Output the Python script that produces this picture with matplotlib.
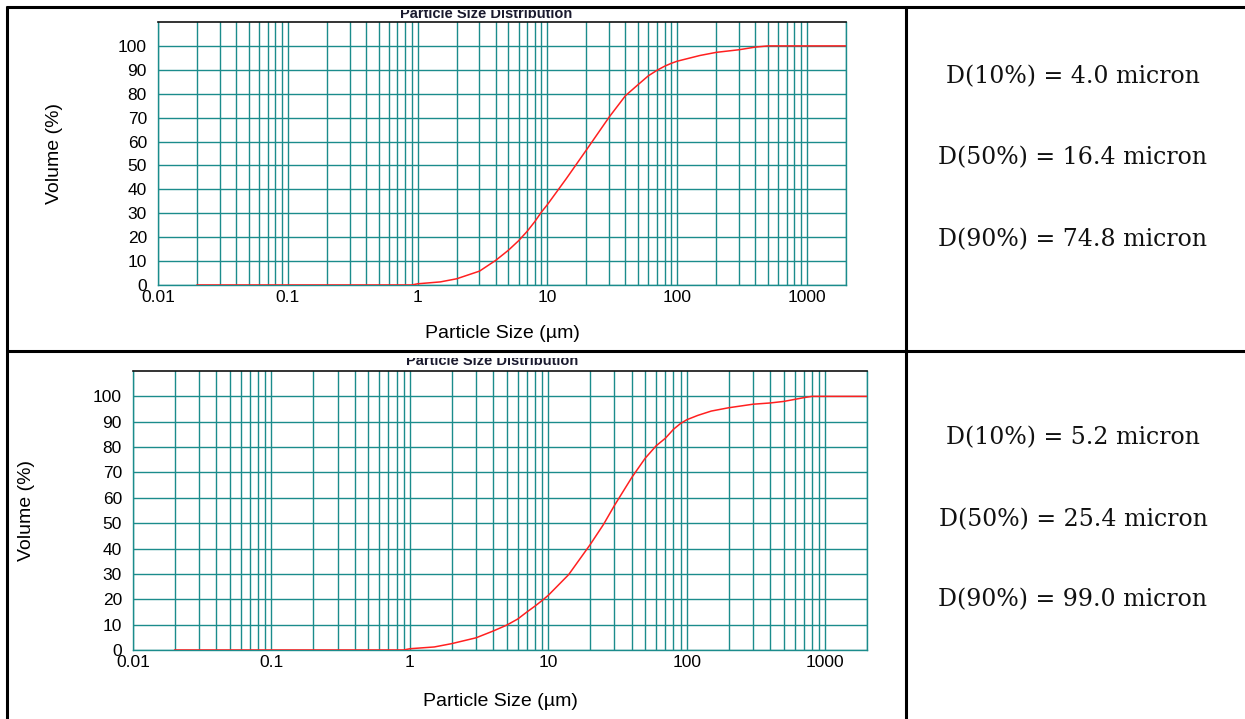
import matplotlib
matplotlib.use("Agg")
import matplotlib.pyplot as plt
from matplotlib.lines import Line2D
from matplotlib.patches import Rectangle
from matplotlib.ticker import FixedLocator, FixedFormatter, LogLocator, NullFormatter

plt.rcParams['font.family'] = ['Liberation Sans', 'DejaVu Sans']

W, H = 1245, 719

# cumulative volume curves
top_size = [0.02, 0.9, 1, 1.5, 2, 3, 4, 5, 6, 7, 8, 9, 10, 14, 20, 30, 40, 50,
            60, 70, 80, 90, 100, 150, 200, 300, 400, 500, 2000]
top_volume = [0, 0, 0.5, 1.3, 2.6, 5.8, 10.3, 14.5, 18.5, 22.5, 26.5, 30.5, 33.6,
              44.5, 56.5, 70.3, 79.2, 83.8, 87.5, 89.8, 91.5, 92.7, 93.6, 96.0,
              97.3, 98.4, 99.5, 100, 100]

bottom_size = [0.02, 0.9, 1, 1.5, 2, 3, 4, 5, 6, 7, 8, 9, 10, 14, 20, 25, 30, 40,
               50, 60, 70, 80, 90, 100, 120, 150, 200, 300, 400, 500, 600, 700,
               800, 2000]
bottom_volume = [0, 0, 0.5, 1.2, 2.5, 4.8, 7.5, 9.8, 12.2, 15.0, 17.3, 19.5, 21.6,
                 29.7, 41.5, 49.5, 57.0, 68.0, 75.6, 80.5, 83.5, 87.0, 89.3, 90.8,
                 92.5, 94.2, 95.5, 96.9, 97.4, 98.0, 98.8, 99.5, 100, 100]

top_stats = ["D(10%) = 4.0 micron", "D(50%) = 16.4 micron", "D(90%) = 74.8 micron"]
bottom_stats = ["D(10%) = 5.2 micron", "D(50%) = 25.4 micron", "D(90%) = 99.0 micron"]

x_ticks = [0.01, 0.1, 1, 10, 100, 1000]
x_tick_labels = ["0.01", "0.1", "1", "10", "100", "1000"]
y_ticks = list(range(0, 101, 10))

teal = '#1b8c8c'


def px_box(x0, y0, x1, y1):
    return [x0 / W, 1 - y1 / H, (x1 - x0) / W, (y1 - y0) / H]


def psd_axes(fig, box, sizes, volume, xlab_y, ylab_x):
    ax = fig.add_axes(px_box(*box))
    ax.set_xscale('log')
    ax.plot(sizes, volume, color='#ff2020', lw=1.1, zorder=3)
    ax.set_xlim(0.01, 2000)
    ax.set_ylim(0, 110)

    ax.xaxis.set_major_locator(FixedLocator(x_ticks))
    ax.xaxis.set_major_formatter(FixedFormatter(x_tick_labels))
    ax.xaxis.set_minor_locator(LogLocator(base=10, subs=range(2, 10), numticks=20))
    ax.xaxis.set_minor_formatter(NullFormatter())
    ax.set_yticks(y_ticks)

    ax.grid(True, which='both', axis='x', color=teal, lw=1.0)
    ax.grid(True, which='major', axis='y', color=teal, lw=1.0)
    ax.set_axisbelow(True)

    ax.tick_params(which='both', length=0)
    ax.tick_params(axis='y', pad=8, labelsize=12.5)
    ax.tick_params(axis='x', pad=3.5, labelsize=12.5)

    for side in ['left', 'right', 'bottom']:
        ax.spines[side].set_color(teal)
        ax.spines[side].set_linewidth(1.0)
    ax.spines['top'].set_color('#111111')
    ax.spines['top'].set_linewidth(1.2)

    ax.set_xlabel('Particle Size (µm)', fontsize=14)
    ax.xaxis.set_label_coords(0.5, xlab_y)
    ax.set_ylabel('Volume (%)', fontsize=14)
    ax.yaxis.set_label_coords(ylab_x, 0.5)
    return ax


fig = plt.figure(figsize=(W / 100, H / 100), dpi=100)

ax1 = psd_axes(fig, (158, 22, 846, 285), top_size, top_volume, -0.152, -0.138)
ax2 = psd_axes(fig, (133, 371, 867, 650), bottom_size, bottom_volume, -0.154, -0.1335)

# chart titles, cropped at the top by the table cell (white band hides the top)
for cx, base, clip_top in [(486, 17.5, 10.0), (492, 365.5, 358.0)]:
    fig.text(cx / W, 1 - base / H, 'Particle Size Distribution',
             ha='center', va='baseline', fontsize=10.5, fontweight='bold',
             color='#1a1a2e', zorder=3)
    fig.add_artist(Rectangle((300 / W, 1 - clip_top / H), 360 / W, 12 / H,
                             transform=fig.transFigure, facecolor='white',
                             edgecolor='none', zorder=4))

# text in the right hand column
for stats, ys in [(top_stats, [77, 158, 240]), (bottom_stats, [438, 520, 600])]:
    for s, y in zip(stats, ys):
        fig.text(1073 / W, 1 - y / H, s, ha='center', va='center',
                 fontsize=17, family=['DejaVu Serif'], color='#111111')

# table borders
border = dict(color='black', lw=2.2, transform=fig.transFigure,
              solid_capstyle='butt', zorder=5)
fig.add_artist(Line2D([6 / W, 1], [1 - 7 / H] * 2, **border))
fig.add_artist(Line2D([6 / W, 1], [1 - 351 / H] * 2, **border))
fig.add_artist(Line2D([7 / W] * 2, [0, 1 - 6 / H], **border))
fig.add_artist(Line2D([906 / W] * 2, [0, 1 - 6 / H], **border))

fig.savefig('out.png', dpi=100)
